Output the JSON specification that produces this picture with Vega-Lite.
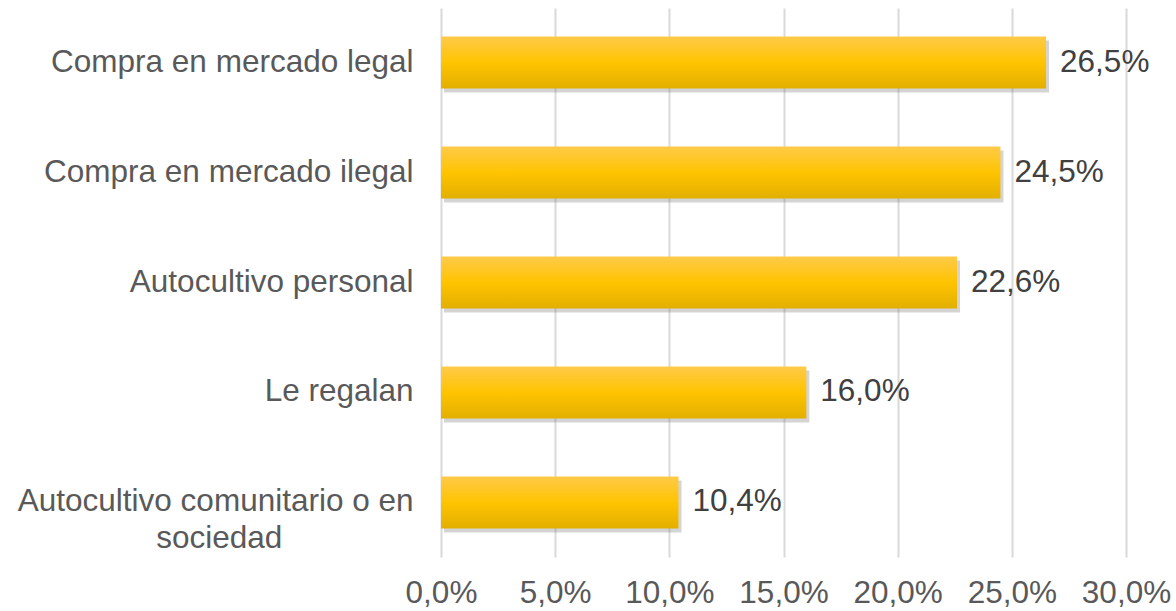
{
  "$schema": "https://vega.github.io/schema/vega-lite/v6.json",
  "width": 685,
  "height": 549,
  "autosize": {"type": "none"},
  "padding": {"left": 441, "top": 8, "right": 50, "bottom": 54},
  "config": {
    "locale": {"number": {"decimal": ",", "thousands": ".", "grouping": [3], "currency": ["", " €"]}},
    "view": {"stroke": null},
    "font": "Liberation Sans"
  },
  "data": {
    "values": [
      {"fuente": "Compra en mercado legal", "valor": 0.265},
      {"fuente": "Compra en mercado ilegal", "valor": 0.245},
      {"fuente": "Autocultivo personal", "valor": 0.226},
      {"fuente": "Le regalan", "valor": 0.160},
      {"fuente": "Autocultivo comunitario o en sociedad", "valor": 0.104}
    ]
  },
  "encoding": {
    "y": {
      "field": "fuente",
      "type": "nominal",
      "sort": null,
      "scale": {"paddingInner": 0.527, "paddingOuter": 0.26},
      "axis": {
        "title": null,
        "domain": false,
        "ticks": false,
        "grid": false,
        "labelPadding": 28,
        "labelLimit": 600,
        "labelFontSize": 31.5,
        "labelColor": "#595959",
        "labelLineHeight": 37,
        "labelExpr": "datum.value == 'Autocultivo comunitario o en sociedad' ? ['Autocultivo comunitario o en', 'sociedad\u00a0\u00a0\u00a0\u00a0\u00a0\u00a0\u00a0\u00a0\u00a0\u00a0\u00a0\u00a0\u00a0\u00a0\u00a0\u2060'] : datum.value"
      }
    },
    "x": {
      "field": "valor",
      "type": "quantitative",
      "scale": {"domain": [0, 0.3], "nice": false},
      "axis": {
        "title": null,
        "values": [0, 0.05, 0.1, 0.15, 0.2, 0.25, 0.3],
        "format": ".1%",
        "domain": false,
        "ticks": false,
        "tickSize": 0,
        "grid": true,
        "gridColor": "#d9d9d9",
        "gridWidth": 2,
        "labelOverlap": false,
        "labelFlush": false,
        "labelPadding": 20,
        "labelFontSize": 31.5,
        "labelColor": "#595959",
        "labelBaseline": "top"
      }
    }
  },
  "layer": [
    {
      "mark": {"type": "bar", "color": "#6f6f6f", "opacity": 0.3, "xOffset": 3, "yOffset": 4}
    },
    {
      "mark": {
        "type": "bar",
        "color": {
          "gradient": "linear",
          "x1": 0, "y1": 0, "x2": 0, "y2": 1,
          "stops": [
            {"offset": 0, "color": "#FFCA4A"},
            {"offset": 0.5, "color": "#FFC400"},
            {"offset": 1, "color": "#E3AF00"}
          ]
        }
      }
    },
    {
      "mark": {"type": "text", "align": "left", "baseline": "middle", "dx": 14, "fontSize": 31.5, "color": "#404040"},
      "encoding": {"text": {"field": "valor", "type": "quantitative", "format": ".1%"}}
    }
  ]
}
